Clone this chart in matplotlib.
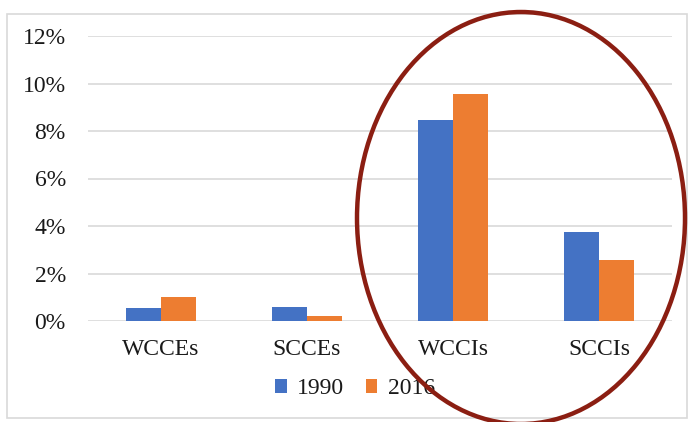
import matplotlib.pyplot as plt
import numpy as np
from matplotlib.patches import Ellipse, Rectangle
from matplotlib.ticker import PercentFormatter

categories = ['WCCEs', 'SCCEs', 'WCCIs', 'SCCIs']
v1990 = [0.55, 0.6, 8.45, 3.75]
v2016 = [1.0, 0.2, 9.55, 2.55]
yticks = [0, 2, 4, 6, 8, 10, 12]

plt.rcParams['font.family'] = ['Liberation Serif', 'DejaVu Serif']

fig = plt.figure(figsize=(6.88, 4.22), dpi=100)
W, H = 688, 422
ax = fig.add_axes([88 / W, 1 - 321 / H, 584 / W, (321 - 36) / H])

x = np.arange(len(categories))
bw = 0.24
ax.bar(x - bw / 2, v1990, bw, color='#4472C4', label='1990', zorder=3)
ax.bar(x + bw / 2, v2016, bw, color='#ED7D31', label='2016', zorder=3)

ax.set_xlim(-0.5, 3.5)
ax.set_ylim(0, 12)
ax.set_yticks(yticks)
ax.yaxis.set_major_formatter(PercentFormatter(decimals=0))
ax.set_xticks(x)
ax.set_xticklabels(categories)
ax.tick_params(length=0, labelsize=17, colors='#1a1a1a')
ax.tick_params(axis='y', pad=16)
ax.tick_params(axis='x', pad=13)
ax.grid(axis='y', color='#d9d9d9', linewidth=1.2, zorder=0)
for s in ax.spines.values():
    s.set_visible(False)

fig.legend(loc='center', bbox_to_anchor=(355 / W, 1 - 389 / H), ncol=2, frameon=False,
           fontsize=17, handlelength=0.5, handleheight=0.5, handletextpad=0.45,
           columnspacing=0.9, labelcolor='#1a1a1a')

# chart border
fig.add_artist(Rectangle((7 / W, 1 - 418 / H), 680 / W, 404 / H, transform=fig.transFigure,
                         fill=False, edgecolor='#d9d9d9', linewidth=1.2))

# highlight ellipse
fig.add_artist(Ellipse((521 / W, 1 - 218 / H), 328 / W, 412 / H, transform=fig.transFigure,
                       fill=False, edgecolor='#8B1E12', linewidth=3.2, zorder=10))

fig.savefig('out.png', dpi=100)
